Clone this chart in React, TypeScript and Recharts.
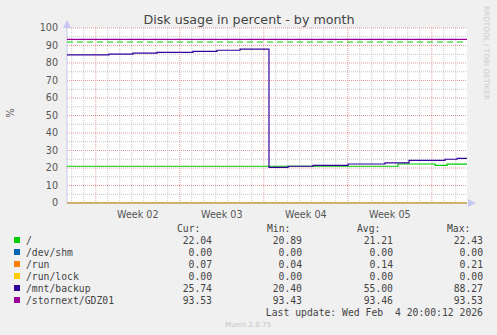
import React from 'react';
import {
  LineChart,
  Line,
  XAxis,
  YAxis,
  ReferenceLine,
  ReferenceArea,
} from 'recharts';

// time axis in days from the left edge of the graph (33.3 days = 400 px)
const END = 33.33;

const rootTimes = [0, 27.58, 30.67, 31.67, END];
const rootValues = [21.0, 22.3, 21.5, 22.2, 22.1];

const devShmTimes = [0, END];
const devShmValues = [0, 0];

const runTimes = [0, END];
const runValues = [0.07, 0.07];

const runLockTimes = [0, END];
const runLockValues = [0, 0];

const backupTimes = [0, 3.5, 5.5, 7.5, 10.5, 12.5, 14.42, 16.83, 18.42, 20.5, 23.42, 26.5, 28.5, 31.5, 32.5, END];
const backupValues = [84.6, 85.1, 85.7, 86.1, 86.7, 87.3, 87.9, 20.4, 21.0, 21.5, 22.3, 22.9, 24.4, 25.0, 25.5, 25.6];

const stornextTimes = [0, END];
const stornextValues = [93.45, 93.5];

const ROOT_WARNING = 92;

const weekStarts = [2.4, 9.4, 16.4, 23.4, 30.4];
const weekLabelPos = [5.9, 12.9, 19.9, 26.9];
const weekLabels = ['Week 02', 'Week 03', 'Week 04', 'Week 05'];
const dayLines = Array.from({ length: 34 }, (_, i) => 0.4 + i).filter(
  d => !weekStarts.some(w => Math.abs(w - d) < 0.01)
);
const yTicks = [0, 10, 20, 30, 40, 50, 60, 70, 80, 90, 100];
const yMinor = [5, 15, 25, 35, 45, 55, 65, 75, 85, 95];

const legendNames = ['/', '/dev/shm', '/run', '/run/lock', '/mnt/backup', '/stornext/GDZ01'];
const legendColors = ['#00cc00', '#0066b3', '#ff8000', '#ffcc00', '#330099', '#990099'];
const curValues = ['22.04', '0.00', '0.07', '0.00', '25.74', '93.53'];
const minValues = ['20.89', '0.00', '0.04', '0.00', '20.40', '93.43'];
const avgValues = ['21.21', '0.00', '0.14', '0.00', '55.00', '93.46'];
const maxValues = ['22.43', '0.00', '0.21', '0.00', '88.27', '93.53'];

const toRows = (t: number[], v: number[]) => t.map((d, i) => ({ t: d, v: v[i] }));

const series = [
  { name: '/', data: toRows(rootTimes, rootValues) },
  { name: '/dev/shm', data: toRows(devShmTimes, devShmValues) },
  { name: '/run', data: toRows(runTimes, runValues) },
  { name: '/run/lock', data: toRows(runLockTimes, runLockValues) },
  { name: '/mnt/backup', data: toRows(backupTimes, backupValues) },
  { name: '/stornext/GDZ01', data: toRows(stornextTimes, stornextValues) },
];

const SANS = '"DejaVu Sans", Verdana, sans-serif';
const MONO = '"DejaVu Sans Mono", monospace';
const MINOR = '#c4c4c4';
const MAJOR = '#e49a9a';

export default function App() {
  const colX = [212, 302, 393, 483];
  const headX = [177, 267, 357, 447];
  const cols = [curValues, minValues, avgValues, maxValues];
  const heads = ['Cur:', 'Min:', 'Avg:', 'Max:'];

  return (
    <div style={{ position: 'absolute', left: 0, top: 0, width: 497, height: 335, background: '#f0f0f0' }}>
      <LineChart
        width={497}
        height={335}
        margin={{ top: 28, right: 30, left: 7, bottom: 112 }}
        style={{ position: 'absolute', left: 0, top: 0 }}
      >
        <XAxis
          dataKey="t"
          type="number"
          domain={[0, END]}
          allowDataOverflow
          ticks={weekLabelPos}
          tickFormatter={(v: number) => weekLabels[weekLabelPos.indexOf(v)] ?? ''}
          tick={{ fontSize: 9.6, fill: '#555', fontFamily: SANS }}
          tickLine={false}
          axisLine={false}
          height={20}
          tickMargin={2}
        />
        <YAxis
          type="number"
          domain={[0, 100]}
          ticks={yTicks}
          interval={0}
          tick={{ fontSize: 9.6, fill: '#555', fontFamily: SANS }}
          tickLine={false}
          axisLine={false}
          width={60}
          tickMargin={3}
        />
        <ReferenceArea x1={0} x2={END} y1={0} y2={100} fill="#ffffff" fillOpacity={1} stroke="none" />
        {yMinor.map(y => (
          <ReferenceLine key={'ym' + y} y={y} stroke={MINOR} strokeDasharray="1 1" />
        ))}
        {dayLines.map(d => (
          <ReferenceLine key={'xm' + d} x={d} stroke={MINOR} strokeDasharray="1 1" />
        ))}
        {yTicks.slice(1).map(y => (
          <ReferenceLine key={'yM' + y} y={y} stroke={MAJOR} strokeDasharray="1 1" />
        ))}
        {weekStarts.map(d => (
          <ReferenceLine key={'xM' + d} x={d} stroke={MAJOR} strokeDasharray="1 1" />
        ))}
        <ReferenceLine x={0} stroke="#c8c8f0" />
        <ReferenceLine y={0} stroke="#c8c8f0" />
        <ReferenceLine y={ROOT_WARNING} stroke="#00cc00" strokeDasharray="6 4" strokeWidth={1.2} />
        {series.map((s, i) => (
          <Line
            key={s.name}
            data={s.data}
            dataKey="v"
            type="stepAfter"
            stroke={legendColors[i]}
            strokeWidth={i >= 1 && i <= 3 ? 1 : 1.2}
            strokeOpacity={i >= 1 && i <= 3 ? 0.6 : 1}
            dot={false}
            isAnimationActive={false}
          />
        ))}
      </LineChart>

      <svg width={497} height={335} style={{ position: 'absolute', left: 0, top: 0, pointerEvents: 'none' }}>
        <text x={249} y={24} textAnchor="middle" fontFamily={SANS} fontSize={12.7} fill="#444">
          Disk usage in percent - by month
        </text>
        <text
          x={14}
          y={113}
          textAnchor="middle"
          fontFamily={SANS}
          fontSize={10}
          fill="#555"
          transform="rotate(-90 14 113)"
        >
          %
        </text>
        <text
          x={484}
          y={53}
          textAnchor="middle"
          fontFamily={SANS}
          fontSize={7.3}
          fill="#cccccc"
          transform="rotate(90 484 53)"
        >
          RRDTOOL / TOBI OETIKER
        </text>
        {/* axis arrows */}
        <polygon points="63,28 71,28 67,20" fill="#c8c8f0" />
        <polygon points="468,199 468,207 476,203" fill="#c8c8f0" />

        {heads.map((h, i) => (
          <text key={h} x={headX[i]} y={231.5} fontFamily={MONO} fontSize={9.75} fill="#444">
            {h}
          </text>
        ))}
        {legendNames.map((n, r) => {
          const y = 243.5 + r * 12;
          return (
            <g key={n}>
              <rect x={14} y={y - 6.5} width={6} height={6} fill={legendColors[r]} />
              <text x={26} y={y} fontFamily={MONO} fontSize={9.75} fill="#444">
                {n}
              </text>
              {cols.map((c, j) => (
                <text key={j} x={colX[j]} y={y} textAnchor="end" fontFamily={MONO} fontSize={9.75} fill="#444">
                  {c[r]}
                </text>
              ))}
            </g>
          );
        })}
        <text x={483} y={315.8} textAnchor="end" fontFamily={MONO} fontSize={9.75} fill="#444" xmlSpace="preserve">
          {'Last update: Wed Feb  4 20:00:12 2026'}
        </text>
        <text x={248} y={326.5} textAnchor="middle" fontFamily={SANS} fontSize={7} fill="#c4c4c4">
          Munin 2.0.75
        </text>
      </svg>
    </div>
  );
}
